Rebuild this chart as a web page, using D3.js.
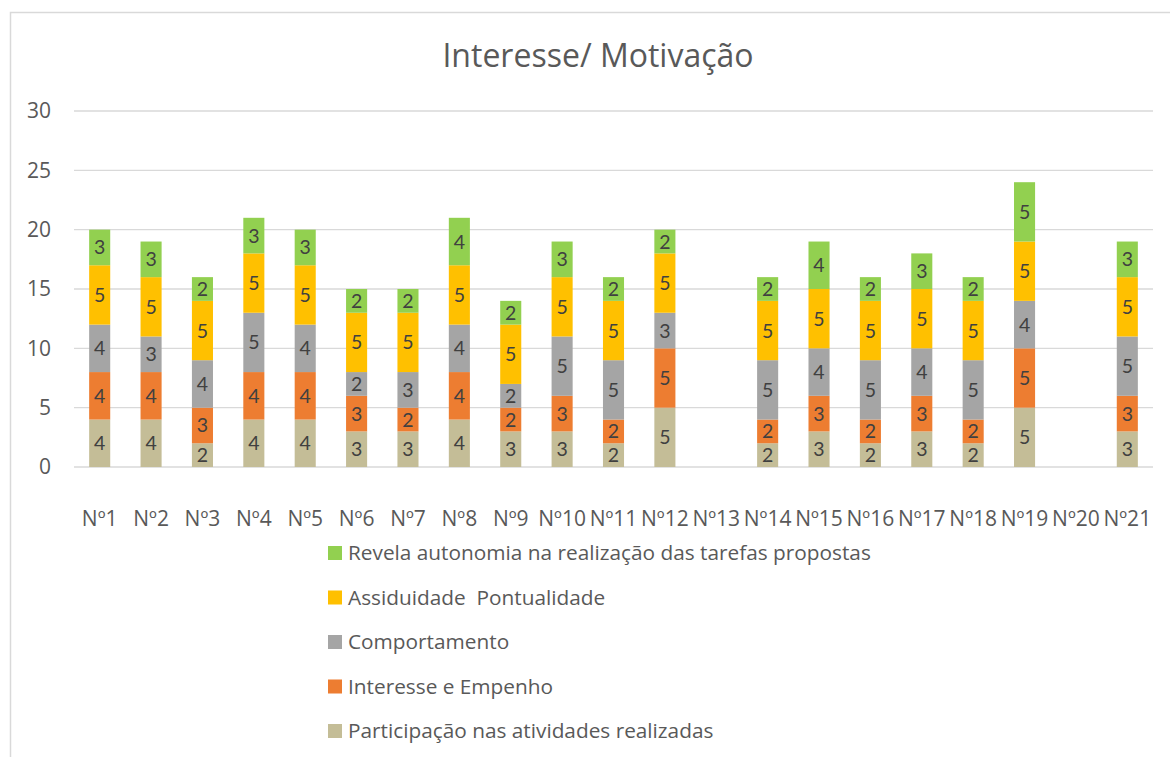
<!DOCTYPE html>
<html>
<head>
<meta charset="utf-8">
<script src="https://cdn.jsdelivr.net/npm/d3@7"></script>
<style>
  body { margin: 0; background: #fff; }
  svg { display: block; font-family: "Open Sans", sans-serif; }
</style>
</head>
<body>
<div id="chart"></div>
<script>
// Categories (students)
const students = ["Nº1","Nº2","Nº3","Nº4","Nº5","Nº6","Nº7","Nº8","Nº9","Nº10","Nº11",
                  "Nº12","Nº13","Nº14","Nº15","Nº16","Nº17","Nº18","Nº19","Nº20","Nº21"];

// Series, bottom to top of the stack
const participacao = [4,4,2,4,4,3,3,4,3,3,2,5,0,2,3,2,3,2,5,0,3];
const interesse    = [4,4,3,4,4,3,2,4,2,3,2,5,0,2,3,2,3,2,5,0,3];
const comportamento= [4,3,4,5,4,2,3,4,2,5,5,3,0,5,4,5,4,5,4,0,5];
const assiduidade  = [5,5,5,5,5,5,5,5,5,5,5,5,0,5,5,5,5,5,5,0,5];
const autonomia    = [3,3,2,3,3,2,2,4,2,3,2,2,0,2,4,2,3,2,5,0,3];

const seriesNames = [
  "Participação nas atividades realizadas",
  "Interesse e Empenho",
  "Comportamento",
  "Assiduidade  Pontualidade",
  "Revela autonomia na realização das tarefas propostas"
];
const seriesColors = ["#C4BD97", "#ED7D31", "#A5A5A5", "#FFC000", "#92D050"];
const yTicks = [0, 5, 10, 15, 20, 25, 30];

const width = 1170, height = 757;
const plot = { left: 74, right: 1153, top: 111, bottom: 467 };

const svg = d3.select("#chart").append("svg")
    .attr("width", width)
    .attr("height", height);

// chart frame (cut off at right and bottom in the original)
svg.append("rect")
    .attr("x", 10.5).attr("y", 12.5)
    .attr("width", 1300).attr("height", 900)
    .attr("fill", "#fff")
    .attr("stroke", "#D9D9D9")
    .attr("stroke-width", 1.5);

// Title
svg.append("text")
    .attr("x", 598).attr("y", 67)
    .attr("text-anchor", "middle")
    .attr("fill", "#595959")
    .style("font-size", "32px")
    .text("Interesse/ Motivação");

const x = d3.scaleBand()
    .domain(students)
    .range([plot.left, plot.right])
    .paddingInner(0.59)
    .paddingOuter(0.295);

const y = d3.scaleLinear()
    .domain([0, 30])
    .range([plot.bottom, plot.top]);

// gridlines
svg.append("g")
    .selectAll("line")
    .data(yTicks)
    .join("line")
    .attr("x1", plot.left).attr("x2", plot.right)
    .attr("y1", d => y(d)).attr("y2", d => y(d))
    .attr("stroke", "#D9D9D9")
    .attr("stroke-width", 1.3);

// y axis labels
svg.append("g")
    .selectAll("text")
    .data(yTicks)
    .join("text")
    .attr("x", 51)
    .attr("y", d => y(d))
    .attr("dy", "0.35em")
    .attr("text-anchor", "end")
    .attr("fill", "#595959")
    .style("font-size", "21px")
    .text(d => d);

// x axis labels
svg.append("g")
    .selectAll("text")
    .data(students)
    .join("text")
    .attr("x", d => x(d) + x.bandwidth() / 2)
    .attr("y", 519)
    .attr("dy", "0.35em")
    .attr("text-anchor", "middle")
    .attr("fill", "#595959")
    .style("font-size", "21px")
    .text(d => d);

// stack the data
const rows = students.map((s, i) => ({
  student: s,
  s0: participacao[i], s1: interesse[i], s2: comportamento[i], s3: assiduidade[i], s4: autonomia[i]
}));
const stack = d3.stack().keys(["s0","s1","s2","s3","s4"]);
const layers = stack(rows);

const layerG = svg.append("g")
    .selectAll("g")
    .data(layers)
    .join("g")
    .attr("fill", (d, i) => seriesColors[i]);

layerG.selectAll("rect")
    .data(d => d.filter(p => p[1] - p[0] > 0))
    .join("rect")
    .attr("x", d => x(d.data.student))
    .attr("y", d => y(d[1]))
    .attr("width", x.bandwidth())
    .attr("height", d => y(d[0]) - y(d[1]));

// value labels - Lato has a tighter line box so the labels of small segments don't collide
layerG.selectAll("text")
    .data(d => d.filter(p => p[1] - p[0] > 0))
    .join("text")
    .attr("x", d => x(d.data.student) + x.bandwidth() / 2)
    .attr("y", d => (y(d[0]) + y(d[1])) / 2)
    .attr("dy", "0.36em")
    .attr("text-anchor", "middle")
    .attr("fill", "#404040")
    .style("font-family", "Lato, sans-serif")
    .style("font-size", "19.5px")
    .text(d => d[1] - d[0]);

// legend (reverse order, top = last series)
const legendItems = seriesNames.map((name, i) => ({ name, color: seriesColors[i] })).reverse();
const legend = svg.append("g")
    .selectAll("g")
    .data(legendItems)
    .join("g")
    .attr("transform", (d, i) => `translate(328, ${553 + i * 44.5})`);

legend.append("rect")
    .attr("x", 0).attr("y", -7)
    .attr("width", 14).attr("height", 14)
    .attr("fill", d => d.color);

legend.append("text")
    .attr("x", 20)
    .attr("y", 0)
    .attr("dy", "0.35em")
    .attr("fill", "#595959")
    .style("font-size", "20.8px")
    .style("white-space", "pre")
    .text(d => d.name);
</script>
</body>
</html>
